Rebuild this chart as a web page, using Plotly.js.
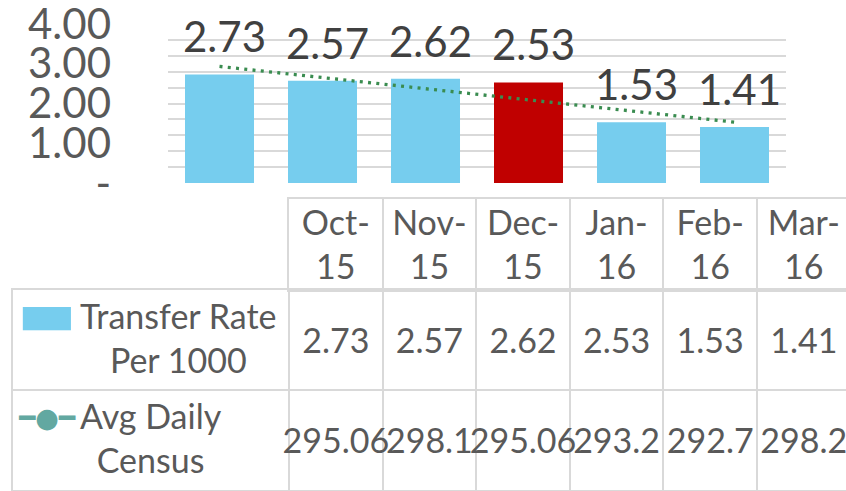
<!DOCTYPE html>
<html><head><meta charset="utf-8">
<script src="https://cdn.plot.ly/plotly-3.0.1.min.js"></script>
<style>html,body{margin:0;padding:0;background:#fff}</style>
</head><body><div id="chart" style="width:846px;height:491px"></div>
<script>
// ---- data ----
const months = ["Oct-15", "Nov-15", "Dec-15", "Jan-16", "Feb-16", "Mar-16"];
const transferRate = [2.73, 2.57, 2.62, 2.53, 1.53, 1.41];
const avgDailyCensus = ["295.06", "298.1", "295.06", "293.2", "292.7", "298.2"];
const seriesNames = ["Transfer Rate<br>Per 1000", "Avg Daily<br>Census"];
const yTickVals = [0, 1, 2, 3, 4];
const yTickText = ["-", "1.00", "2.00", "3.00", "4.00"];
const highlightIndex = 3;

// ---- styles / layout constants ----
const BLUE = "#76CDEE", RED = "#C00000", GREEN = "#3A8C50", TEAL = "#62A8A1";
const TXT = "#595959", GRID = "#D9D9D9", LBL = "#404040";
const W = 846, H = 491;
const FONT = "Lato";
const TFONT = 34;               // table font size
const colPx = 93.6;             // table column width (px)
const tblLeft = 13, colStart = 289, hdrTop = 199, hdrBot = 290, tblBot = 490;
const visibleCols = (W - colStart) / colPx;   // last column is cut at the page edge
const firstColUnits = (colStart - tblLeft) / colPx;
const px2u = p => (p - colStart) / colPx;
const hdrShift = 4 / (hdrBot - hdrTop);        // nudge header text down (axis units)
const rowShift = 4 / ((tblBot - hdrBot) / 2);  // nudge body text down (axis units)

// linear trendline (least squares) from the bar series
const n = transferRate.length;
const xs = transferRate.map((_, i) => i + 1);
const mx = xs.reduce((a, b) => a + b, 0) / n;
const my = transferRate.reduce((a, b) => a + b, 0) / n;
let sxy = 0, sxx = 0;
xs.forEach((x, i) => { sxy += (x - mx) * (transferRate[i] - my); sxx += (x - mx) * (x - mx); });
const slope = sxy / sxx, icpt = my - slope * mx;
const trend = xs.map(x => icpt + slope * x);

const barColors = transferRate.map((_, i) => i === highlightIndex ? RED : BLUE);

const bars = {
  type: "bar", x: months, y: transferRate, xaxis: "x", yaxis: "y",
  marker: { color: barColors, line: { width: 0 } }, hoverinfo: "skip", showlegend: false
};
const trendLine = {
  type: "scatter", mode: "lines", x: months, y: trend, xaxis: "x", yaxis: "y2",
  line: { color: GREEN, width: 3.3, dash: "3px,5.3px" }, hoverinfo: "skip", showlegend: false
};

// ---- data table (header subplot x2/y3, body subplot x3/y4) ----
const colCenters = months.map((_, i) => i + 0.5);
const headerText = {
  type: "scatter", mode: "text", xaxis: "x2", yaxis: "y3",
  x: colCenters, y: months.map(() => 0.5 - hdrShift), text: months.map(m => m.replace("-", "-<br>")),
  textposition: "middle center", textfont: { family: FONT, size: TFONT, color: TXT },
  cliponaxis: false, hoverinfo: "skip", showlegend: false
};
const rateText = {
  type: "scatter", mode: "text", xaxis: "x3", yaxis: "y4",
  x: colCenters, y: months.map(() => 1.5 - rowShift), text: transferRate.map(v => v.toFixed(2)),
  textposition: "middle center", textfont: { family: FONT, size: TFONT, color: TXT },
  cliponaxis: false, hoverinfo: "skip", showlegend: false
};
const censusText = {
  type: "scatter", mode: "text", xaxis: "x3", yaxis: "y4",
  x: colCenters, y: months.map(() => 0.5 - rowShift), text: avgDailyCensus,
  textposition: "middle center", textfont: { family: FONT, size: TFONT, color: TXT },
  cliponaxis: false, hoverinfo: "skip", showlegend: false
};

// value labels above bars
const annotations = transferRate.map((v, i) => ({
  x: months[i], y: v, xref: "x", yref: "y", text: v.toFixed(2),
  showarrow: false, yanchor: "bottom", xanchor: "center", xshift: 5, yshift: 11,
  font: { family: FONT, size: 42, color: LBL }
}));
// row labels with legend keys
const rowY = [1.5, 0.5];
const icons = [
  { t: "▬", size: 63, color: BLUE, dy: 27 },
  { t: "━●━", size: 27, color: TEAL, dy: 23 }
];
seriesNames.forEach((s, r) => {
  annotations.push({
    x: px2u(78), y: rowY[r], xref: "x3", yref: "y4", text: s, showarrow: false,
    xanchor: "left", yanchor: "middle", align: "center", yshift: 3,
    font: { family: FONT, size: TFONT, color: TXT }
  });
  annotations.push({
    x: px2u(47), y: rowY[r], xref: "x3", yref: "y4", text: icons[r].t, showarrow: false,
    xanchor: "center", yanchor: "middle", yshift: icons[r].dy,
    font: { family: "DejaVu Sans", size: icons[r].size, color: icons[r].color }
  });
});

const border = { showline: true, linecolor: GRID, linewidth: 2 };
const layout = {
  width: W, height: H, margin: { l: 0, r: 0, t: 0, b: 0 },
  paper_bgcolor: "white", plot_bgcolor: "rgba(0,0,0,0)",
  showlegend: false, bargap: 0.33,
  xaxis: { domain: [168 / W, 786 / W], type: "category", showticklabels: false, showgrid: false,
           zeroline: false, showline: false, ticks: "", fixedrange: true },
  yaxis: { domain: [1 - 183 / H, 1 - 24 / H], range: [0, 4.0001], tickvals: yTickVals, ticktext: yTickText,
           showgrid: false, zeroline: false, showline: false, ticks: "", ticklabelstandoff: 56,
           ticklabeloverflow: "allow",
           tickfont: { family: FONT, size: 42, color: TXT }, fixedrange: true },
  yaxis2: { overlaying: "y", anchor: "x", range: [0, 4.0001], tick0: 0, dtick: 0.4, showgrid: true,
            gridcolor: GRID, gridwidth: 2, showticklabels: false, zeroline: false, ticks: "", fixedrange: true },
  // header
  xaxis2: Object.assign({ domain: [colStart / W, 1], range: [0, visibleCols], anchor: "y3",
           tickvals: [1, 2, 3, 4, 5], showgrid: true, gridcolor: GRID, gridwidth: 2,
           showticklabels: false, ticks: "", zeroline: false, mirror: true, fixedrange: true }, border),
  yaxis3: Object.assign({ domain: [1 - hdrBot / H, 1 - hdrTop / H], range: [0, 1], anchor: "x2",
           showgrid: false, showticklabels: false, ticks: "", zeroline: false, fixedrange: true }, border),
  // body
  xaxis3: Object.assign({ domain: [tblLeft / W, 1], range: [-firstColUnits, visibleCols], anchor: "y4",
           tickvals: [0, 1, 2, 3, 4, 5], showgrid: true, gridcolor: GRID, gridwidth: 2,
           showticklabels: false, ticks: "", zeroline: false, mirror: true, fixedrange: true }, border),
  yaxis4: Object.assign({ domain: [1 - tblBot / H, 1 - hdrBot / H], range: [0, 2], anchor: "x3",
           tickvals: [1], showgrid: true, gridcolor: GRID, gridwidth: 2,
           showticklabels: false, ticks: "", zeroline: false, fixedrange: true }, border),
  annotations: annotations
};

Plotly.newPlot("chart", [bars, trendLine, headerText, rateText, censusText], layout,
  { displayModeBar: false, staticPlot: true });
</script></body></html>
